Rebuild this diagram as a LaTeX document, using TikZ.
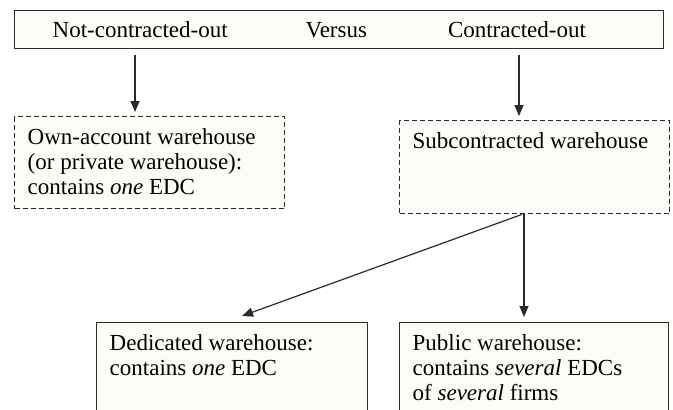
\documentclass[tikz,border=0pt]{standalone}
\usepackage{fontspec}
\setmainfont{Liberation Serif}
\usetikzlibrary{arrows.meta}
\definecolor{boxfill}{HTML}{FDFDF8}
\definecolor{edge}{HTML}{2A2A2A}
\newcommand{\boxtxt}[3]{\parbox[t][#1][t]{#2}{\raggedright\rule{0pt}{18pt}#3}}

\begin{document}
\begin{tikzpicture}[x=1pt,y=-1pt,font=\fontsize{23pt}{25pt}\selectfont,
  box/.style={draw=edge,line width=1.4pt,fill=boxfill,anchor=north west,inner xsep=13pt,inner ysep=10pt},
  dbox/.style={box,dash pattern=on 5pt off 3pt},
  arr/.style={-{Triangle[length=11pt,width=9pt]},line width=1.2pt,draw=edge}]
  \useasboundingbox (0,0) rectangle (673,410);
  \clip (0,0) rectangle (673,410);

  \node[box,inner xsep=38pt,text width=573pt,align=left] (top) at (14,10)
    {\rule[-1pt]{0pt}{18pt}Not-contracted-out\hspace{78pt}Versus\hspace{81pt}Contracted-out};

  \node[dbox] (own) at (14,116) {\boxtxt{72pt}{244pt}{Own-account warehouse\\(or private warehouse):\\contains \textit{one} EDC}};
  \node[dbox] (sub) at (399,120) {\boxtxt{73pt}{244pt}{Subcontracted warehouse}};
  \node[box] (ded) at (96,322) {\boxtxt{90pt}{245pt}{Dedicated warehouse:\\contains \textit{one} EDC}};
  \node[box] (pub) at (399,322) {\boxtxt{90pt}{243pt}{Public warehouse:\\contains \textit{several} EDCs\\of \textit{several} firms}};

  \draw[arr] ([xshift=121pt,yshift=-6pt]top.south west) -- ([xshift=121pt,yshift=4pt]own.north west);
  \draw[arr] ([xshift=505pt,yshift=-6pt]top.south west) -- ([xshift=120pt,yshift=4pt]sub.north west);
  \draw[arr] ([xshift=123pt]sub.south west) -- ([xshift=146pt,yshift=6pt]ded.north west);
  \draw[arr] ([xshift=125pt]sub.south west) -- ([xshift=125pt,yshift=5pt]pub.north west);
\end{tikzpicture}
\end{document}
